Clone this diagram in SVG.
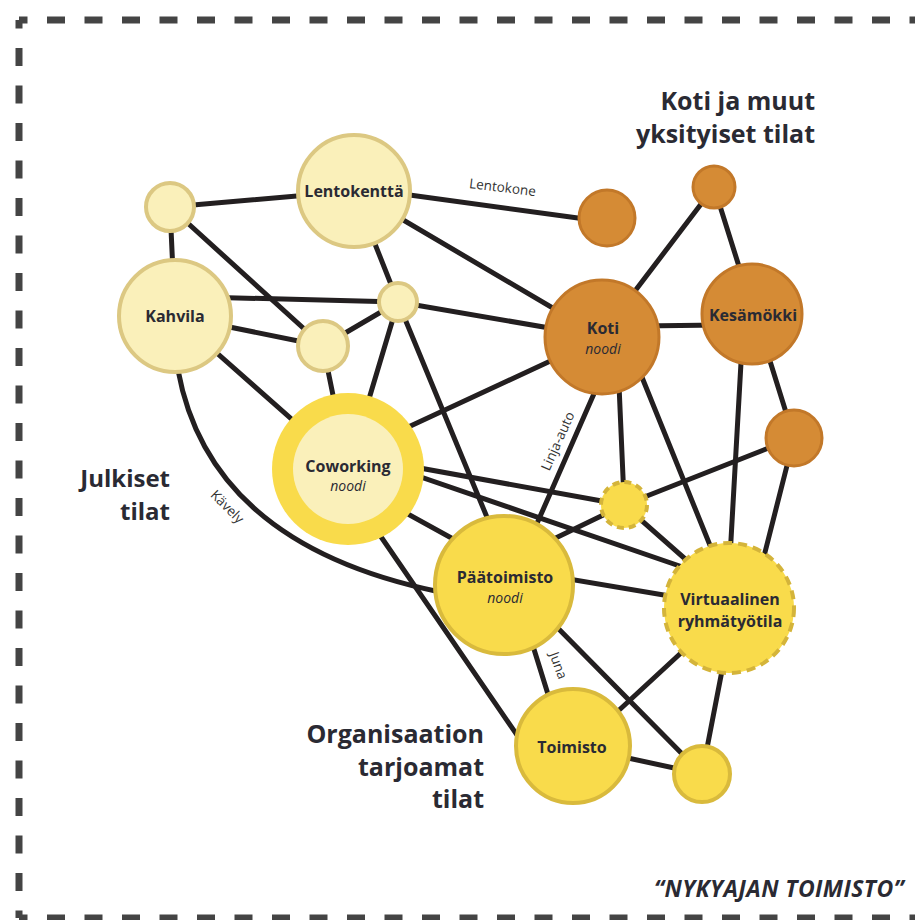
<svg xmlns="http://www.w3.org/2000/svg" width="915" height="920" viewBox="0 0 915 920">
<style>
.bd{stroke:#444;stroke-width:7;fill:none;stroke-dasharray:18 19.5;stroke-dashoffset:9.5}
.e{stroke:#231f20;stroke-width:5;fill:none;stroke-linecap:round}
.ly{fill:#FAF0BA;stroke:#DCC882;stroke-width:4}
.y{fill:#F9DB4B;stroke:#D9BA3C;stroke-width:4}
.yd{fill:#F9DB4B;stroke:#D4B43A;stroke-width:4;stroke-dasharray:9 6}
.yds{fill:#F9DB4B;stroke:#D4B43A;stroke-width:4;stroke-dasharray:7 5}
.o{fill:#D58B35;stroke:#C27829;stroke-width:3}
text{font-family:"Open Sans","Liberation Sans",sans-serif;fill:#2a2a33}
.lbl{font-weight:700;font-size:16px;text-anchor:middle}
.it{font-style:italic;font-weight:400;font-size:14px;text-anchor:middle}
.title{font-weight:700;font-size:25px;text-anchor:end}
.el{font-size:13.5px;fill:#333;text-anchor:middle}
</style>
<g id="border">
<path class="bd" d="M19,20 H915"/>
<path class="bd" d="M19,20 V918"/>
<path class="bd" d="M19,918 H915"/>
</g>
<g id="connectors">
<line class="e" x1="170" y1="207" x2="354" y2="191"/>
<line class="e" x1="170" y1="207" x2="175" y2="316"/>
<line class="e" x1="170" y1="207" x2="323" y2="346"/>
<line class="e" x1="354" y1="191" x2="398" y2="302"/>
<line class="e" x1="354" y1="191" x2="602" y2="337"/>
<line class="e" x1="395" y1="193" x2="600" y2="221"/>
<line class="e" x1="200" y1="297" x2="398" y2="302"/>
<line class="e" x1="175" y1="316" x2="323" y2="346"/>
<line class="e" x1="175" y1="316" x2="348" y2="469"/>
<path class="e" d="M178,370 Q210,545 440,592"/>
<line class="e" x1="323" y1="346" x2="348" y2="469"/>
<line class="e" x1="398" y1="302" x2="323" y2="346"/>
<line class="e" x1="398" y1="302" x2="602" y2="337"/>
<line class="e" x1="398" y1="302" x2="515" y2="585"/>
<line class="e" x1="398" y1="302" x2="348" y2="469"/>
<line class="e" x1="348" y1="455" x2="602" y2="337"/>
<line class="e" x1="348" y1="455" x2="624" y2="505"/>
<line class="e" x1="348" y1="452" x2="700" y2="573"/>
<line class="e" x1="348" y1="481" x2="504" y2="567"/>
<line class="e" x1="375" y1="528" x2="530" y2="754"/>
<line class="e" x1="600" y1="380" x2="535" y2="528"/>
<line class="e" x1="619" y1="385" x2="624" y2="500"/>
<line class="e" x1="635" y1="360" x2="720" y2="570"/>
<line class="e" x1="619" y1="312" x2="714" y2="187"/>
<line class="e" x1="640" y1="326" x2="720" y2="325"/>
<line class="e" x1="714" y1="187" x2="748" y2="295"/>
<line class="e" x1="742" y1="345" x2="729" y2="575"/>
<line class="e" x1="765" y1="345" x2="794" y2="438"/>
<line class="e" x1="794" y1="438" x2="624" y2="505"/>
<line class="e" x1="794" y1="438" x2="760" y2="572"/>
<line class="e" x1="624" y1="505" x2="700" y2="572"/>
<line class="e" x1="504" y1="563" x2="624" y2="505"/>
<line class="e" x1="504" y1="568" x2="729" y2="606"/>
<line class="e" x1="528" y1="630" x2="556" y2="720"/>
<line class="e" x1="540" y1="610" x2="702" y2="774"/>
<line class="e" x1="590" y1="737" x2="695" y2="640"/>
<line class="e" x1="600" y1="752" x2="702" y2="774"/>
<line class="e" x1="726" y1="650" x2="702" y2="774"/>
<text class="el" transform="translate(502,192) rotate(7)">Lentokone</text>
<text class="el" transform="translate(562,443) rotate(-66)">Linja-auto</text>
<text class="el" transform="translate(224,510) rotate(45)">Kävely</text>
<text class="el" transform="translate(554,667) rotate(70)">Juna</text>
</g>
<g id="n-small-tl"><circle class="ly" cx="170" cy="207" r="24"/></g>
<g id="n-lentokentta"><circle class="ly" cx="354" cy="191" r="56"/><text class="lbl" x="354" y="197">Lentokenttä</text></g>
<g id="n-kahvila"><circle class="ly" cx="175" cy="316" r="56"/><text class="lbl" x="175" y="322">Kahvila</text></g>
<g id="n-small-a"><circle class="ly" cx="398" cy="302" r="19"/></g>
<g id="n-small-b"><circle class="ly" cx="323" cy="346" r="25"/></g>
<g id="n-coworking"><circle cx="348" cy="469" r="76" fill="#F9DB4B"/><circle cx="348" cy="469" r="55" fill="#FAF0BA"/><text class="lbl" x="348" y="472">Coworking</text><text class="it" x="348" y="491">noodi</text></g>
<g id="n-lentokone"><circle class="o" cx="607" cy="218" r="28"/></g>
<g id="n-top-orange"><circle class="o" cx="714" cy="187" r="21"/></g>
<g id="n-koti"><circle class="o" cx="602" cy="337" r="57"/><text class="lbl" x="603" y="334">Koti</text><text class="it" x="603" y="354">noodi</text></g>
<g id="n-kesamokki"><circle class="o" cx="752" cy="314" r="50"/><text class="lbl" x="753" y="321">Kesämökki</text></g>
<g id="n-orange-right"><circle class="o" cx="794" cy="438" r="28"/></g>
<g id="n-dashed-small"><circle class="yds" cx="624" cy="505" r="23"/></g>
<g id="n-paatoimisto"><circle class="y" cx="504" cy="585" r="69"/><text class="lbl" x="505" y="583">Päätoimisto</text><text class="it" x="505" y="603">noodi</text></g>
<g id="n-virtuaalinen"><circle class="yd" cx="729" cy="608" r="65"/><text class="lbl" x="730" y="605">Virtuaalinen</text><text class="lbl" x="730" y="627">ryhmätyötila</text></g>
<g id="n-toimisto"><circle class="y" cx="573" cy="746" r="57"/><text class="lbl" x="572" y="753">Toimisto</text></g>
<g id="n-small-br"><circle class="y" cx="702" cy="774" r="28"/></g>
<g id="titles">
<text class="title" x="815" y="110">Koti ja muut</text>
<text class="title" x="815" y="143">yksityiset tilat</text>
<text class="title" x="170" y="487" style="font-size:24px">Julkiset</text>
<text class="title" x="170" y="520" style="font-size:24px">tilat</text>
<text class="title" x="484" y="743">Organisaation</text>
<text class="title" x="484" y="776">tarjoamat</text>
<text class="title" x="484" y="808">tilat</text>
<text class="title" x="904" y="897" style="font-style:italic;font-size:23px;letter-spacing:0.4px">“NYKYAJAN TOIMISTO”</text>
</g>
</svg>
